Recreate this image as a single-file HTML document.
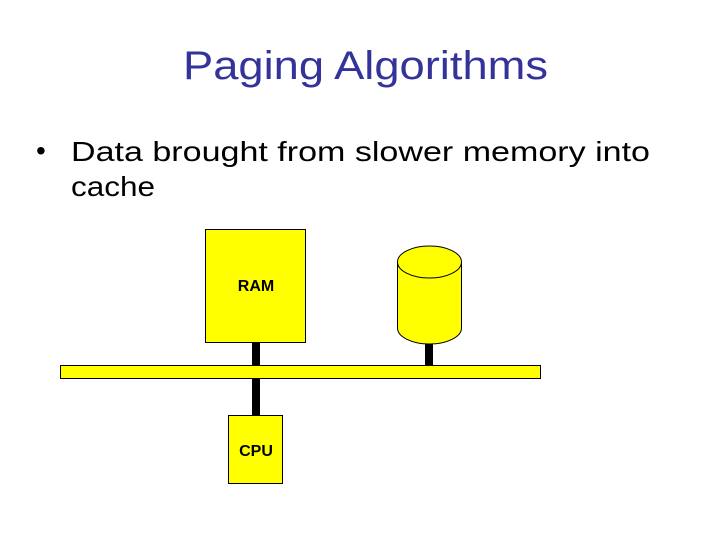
<!DOCTYPE html>
<html><head><style>html,body{margin:0;padding:0;background:#fff;}svg{display:block}</style></head>
<body>
<svg width="720" height="540" viewBox="0 0 720 540" xmlns="http://www.w3.org/2000/svg">
<text x="183" y="79" font-family="Liberation Sans, DejaVu Sans, sans-serif" font-size="40" fill="#333399" textLength="365" lengthAdjust="spacingAndGlyphs">Paging Algorithms</text>
<text x="36" y="160" font-family="Liberation Sans, sans-serif" font-size="28" fill="#000">•</text>
<text x="71" y="161" font-family="Liberation Sans, DejaVu Sans, sans-serif" font-size="28" fill="#000" textLength="579" lengthAdjust="spacingAndGlyphs">Data brought from slower memory into</text>
<text x="71" y="196" font-family="Liberation Sans, DejaVu Sans, sans-serif" font-size="28" fill="#000" textLength="84" lengthAdjust="spacingAndGlyphs">cache</text>
<rect x="252" y="342" width="8" height="24" fill="#000"/>
<rect x="252" y="377" width="8" height="39" fill="#000"/>
<rect x="425" y="340" width="8" height="26" fill="#000"/>
<rect x="205.5" y="229.5" width="100" height="113" fill="#ffff00" stroke="#000" stroke-width="1"/>
<text x="256" y="291" text-anchor="middle" font-family="Liberation Sans, sans-serif" font-weight="bold" font-size="16">RAM</text>
<rect x="60.5" y="365.5" width="480" height="13" fill="#ffff00" stroke="#000" stroke-width="1"/>
<rect x="228.5" y="415.5" width="54" height="68" fill="#ffff00" stroke="#000" stroke-width="1"/>
<text x="256" y="456" text-anchor="middle" font-family="Liberation Sans, sans-serif" font-weight="bold" font-size="16">CPU</text>
<path d="M397.5 262 L397.5 328 A32 16 0 0 0 461.5 328 L461.5 262" fill="#ffff00" stroke="#000" stroke-width="1"/>
<ellipse cx="429.5" cy="262" rx="32" ry="16" fill="#ffff00" stroke="#000" stroke-width="1"/>
</svg>
</body></html>
